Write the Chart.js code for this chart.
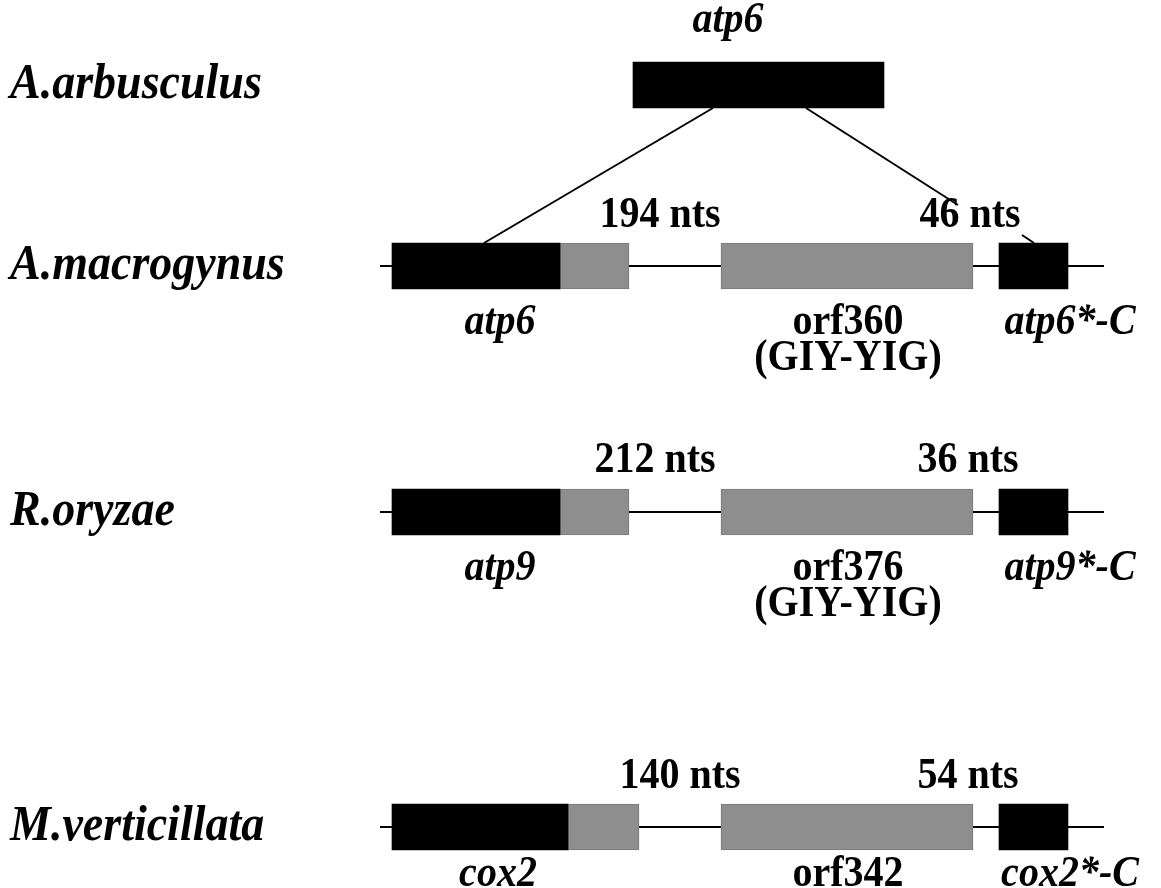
<!DOCTYPE html>
<html>
<head>
<meta charset="utf-8">
<script src="https://cdn.jsdelivr.net/npm/chart.js@4.4.1/dist/chart.umd.min.js"></script>
<style>
  html, body { margin: 0; padding: 0; background: #fff; }
  canvas { display: block; }
</style>
</head>
<body>
<canvas id="genes" width="1161" height="888"></canvas>
<script>
// Rows (species) and their track position
const species = ['A.arbusculus', 'A.macrogynus', 'R.oryzae', 'M.verticillata'];
const rowY = [85, 266, 512, 827];

// Backbone extent for the three lower rows
const backbone = [380, 1104];

// Gene boxes [start, end] per row (index into species)
const blackBoxes = [
  { row: 0, span: [633, 884] },
  { row: 1, span: [392, 560] }, { row: 1, span: [999, 1068] },
  { row: 2, span: [392, 560] }, { row: 2, span: [999, 1068] },
  { row: 3, span: [392, 568] }, { row: 3, span: [999, 1068] }
];
const greyBoxes = [
  { row: 1, span: [560, 629] }, { row: 1, span: [721, 973] },
  { row: 2, span: [560, 629] }, { row: 2, span: [721, 973] },
  { row: 3, span: [568, 639] }, { row: 3, span: [721, 973] }
];

// Insertion lines from the atp6 box of A.arbusculus
const connectors = [
  [[713, 108], [484, 243]],
  [[806, 108], [958, 205]],
  [[1022, 235], [1034, 243]]
];

// Intron sizes: [text, x, y]
const intronLabels = [
  ['194 nts', 660, 215], ['46 nts', 970, 215],
  ['212 nts', 655, 460], ['36 nts', 968, 460],
  ['140 nts', 680, 776], ['54 nts', 968, 776]
];
// Gene names: [text, x, y, italic]
const geneLabels = [
  ['atp6', 728, 20, true],
  ['atp6', 500, 322, true], ['orf360', 848, 322, false], ['(GIY-YIG)', 848, 358, false], ['atp6*-C', 1070, 322, true],
  ['atp9', 500, 568, true], ['orf376', 848, 568, false], ['(GIY-YIG)', 848, 604, false], ['atp9*-C', 1070, 568, true],
  ['cox2', 498, 874, true], ['orf342', 848, 874, false], ['cox2*-C', 1070, 874, true]
];

const SERIF = '"Liberation Serif", "DejaVu Serif", serif';
const STRETCH = 1.12; // le texte de la figure est un peu étiré en hauteur

// Datasets
const datasets = [];

datasets.push({
  type: 'bar',
  label: 'black',
  data: blackBoxes.map(b => ({ x: b.span, y: rowY[b.row] })),
  backgroundColor: '#000000',
  barThickness: 46,
  grouped: false,
  order: 1
});
datasets.push({
  type: 'bar',
  label: 'grey',
  data: greyBoxes.map(b => ({ x: b.span, y: rowY[b.row] })),
  backgroundColor: '#8e8e8e',
  borderColor: '#7a7a7a',
  borderWidth: 1,
  borderSkipped: false,
  barThickness: 46,
  grouped: false,
  order: 1
});

// Backbones
rowY.slice(1).forEach(y => {
  datasets.push({
    type: 'line',
    data: [{ x: backbone[0], y: y }, { x: backbone[1], y: y }],
    borderColor: '#000000',
    borderWidth: 2,
    pointRadius: 0,
    order: 2
  });
});

// Connectors
connectors.forEach(c => {
  datasets.push({
    type: 'line',
    data: c.map(p => ({ x: p[0], y: p[1] })),
    borderColor: '#000000',
    borderWidth: 2,
    pointRadius: 0,
    order: 2
  });
});

function drawText(ctx, text, x, y) {
  ctx.save();
  ctx.translate(x, y);
  ctx.scale(1, STRETCH);
  ctx.fillText(text, 0, 0);
  ctx.restore();
}

// Texte dessiné aux coordonnées des échelles
const labelPlugin = {
  id: 'labels',
  afterDatasetsDraw(chart) {
    const { ctx, scales } = chart;
    const px = v => scales.x.getPixelForValue(v);
    const py = v => scales.y.getPixelForValue(v);
    ctx.save();
    ctx.fillStyle = '#000';
    ctx.textBaseline = 'middle';

    ctx.textAlign = 'left';
    ctx.font = 'bold italic 46px ' + SERIF;
    species.forEach((s, i) => drawText(ctx, s, px(10), py(rowY[i])));

    ctx.textAlign = 'center';
    ctx.font = 'bold 40px ' + SERIF;
    intronLabels.forEach(l => drawText(ctx, l[0], px(l[1]), py(l[2])));

    geneLabels.forEach(l => {
      ctx.font = (l[3] ? 'bold italic ' : 'bold ') + '40px ' + SERIF;
      drawText(ctx, l[0], px(l[1]), py(l[2]));
    });
    ctx.restore();
  }
};

new Chart(document.getElementById('genes'), {
  type: 'bar',
  data: { datasets: datasets },
  options: {
    indexAxis: 'y',
    responsive: false,
    animation: false,
    layout: { padding: 0 },
    plugins: {
      legend: { display: false },
      tooltip: { enabled: false }
    },
    scales: {
      x: { type: 'linear', min: 0, max: 1161, offset: false, display: false },
      y: { type: 'linear', min: 0, max: 888, reverse: true, offset: false, display: false }
    }
  },
  plugins: [labelPlugin]
});
</script>
</body>
</html>
